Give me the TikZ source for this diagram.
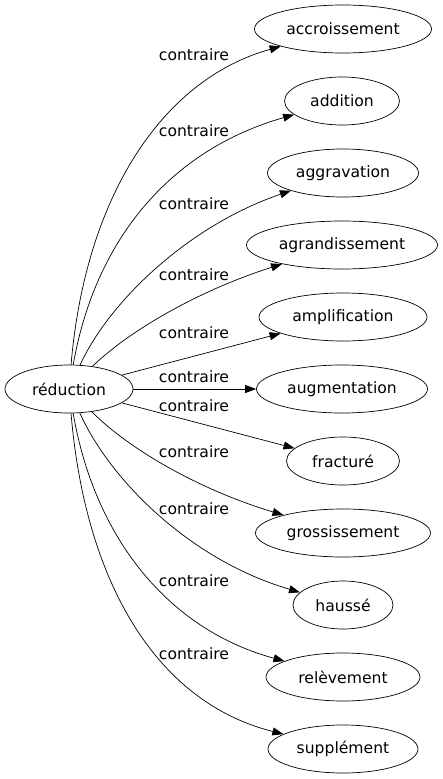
\documentclass[tikz,border=0pt]{standalone}
\usepackage{fontspec}
\setmainfont{DejaVu Sans}
\usepackage{tikz}
\usetikzlibrary{arrows.meta,shapes.geometric}

\tikzset{
  word/.style={ellipse, draw, line width=0.7pt, inner sep=0pt, minimum height=48pt,
    font=\fontsize{15.6}{18}\selectfont},
  rel/.style={inner sep=0pt, font=\fontsize{15.6}{18}\selectfont},
  link/.style={-{Triangle[length=11pt,width=8pt]}, line width=0.7pt}
}

\begin{document}
\begin{tikzpicture}[x=1pt,y=-1pt]
\useasboundingbox (0,0) rectangle (443,779);
\node[word, minimum width=128pt] (reduction) at (69,389) {réduction};
\node[word, minimum width=177pt] (accr) at (343,29) {accroissement};
\node[word, minimum width=115pt] (addi) at (342,101) {addition};
\node[word, minimum width=151pt] (aggr) at (343,173) {aggravation};
\node[word, minimum width=191pt] (agra) at (342,245) {agrandissement};
\node[word, minimum width=168pt] (ampl) at (343,317) {amplification};
\node[word, minimum width=171pt] (augm) at (342,389) {augmentation};
\node[word, minimum width=113pt] (frac) at (343,461) {fracturé};
\node[word, minimum width=175pt] (gros) at (343,533) {grossissement};
\node[word, minimum width=100pt] (haus) at (343,605) {haussé};
\node[word, minimum width=154pt] (rele) at (343,677) {relèvement};
\node[word, minimum width=150pt] (supp) at (343,749) {supplément};

\draw[link] (reduction) .. controls (85,200) and (160,80) .. (accr);
\draw[link] (reduction) .. controls (95,240) and (170,150) .. (addi);
\draw[link] (reduction) .. controls (110,300) and (190,225) .. (aggr);
\draw[link] (reduction) .. controls (130,330) and (200,290) .. (agra);
\draw[link] (reduction) -- (ampl);
\draw[link] (reduction) -- (augm);
\draw[link] (reduction) -- (frac);
\draw[link] (reduction) .. controls (130,450) and (200,490) .. (gros);
\draw[link] (reduction) .. controls (110,480) and (190,560) .. (haus);
\draw[link] (reduction) .. controls (95,540) and (170,630) .. (rele);
\draw[link] (reduction) .. controls (85,580) and (155,702) .. (supp);

\node[rel] (l-accr) at (194,55) {contraire};
\node[rel] (l-addi) at (194,131) {contraire};
\node[rel] (l-aggr) at (194,204) {contraire};
\node[rel] (l-agra) at (194,275) {contraire};
\node[rel] (l-ampl) at (194,333) {contraire};
\node[rel] (l-augm) at (194,377) {contraire};
\node[rel] (l-frac) at (194,406) {contraire};
\node[rel] (l-gros) at (194,452) {contraire};
\node[rel] (l-haus) at (194,509) {contraire};
\node[rel] (l-rele) at (194,581) {contraire};
\node[rel] (l-supp) at (194,654) {contraire};
\end{tikzpicture}
\end{document}
